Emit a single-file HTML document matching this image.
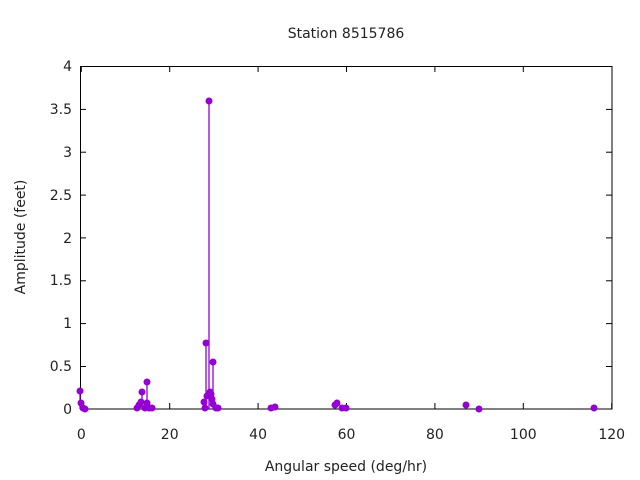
<!DOCTYPE html>
<html><head><meta charset="utf-8"><style>body{margin:0;background:#fff}svg{display:block}text{font-family:"DejaVu Sans",sans-serif;font-size:14px;fill:#222}</style></head><body>
<svg width="640" height="480" xmlns="http://www.w3.org/2000/svg">
<rect x="80.5" y="66.5" width="531.5" height="342.5" fill="none" stroke="#000" stroke-width="1"/>
<g stroke="#000">
<line x1="81.3" y1="409" x2="81.3" y2="403"/><line x1="169.7" y1="409" x2="169.7" y2="403"/><line x1="258.1" y1="409" x2="258.1" y2="403"/><line x1="346.5" y1="409" x2="346.5" y2="403"/><line x1="434.9" y1="409" x2="434.9" y2="403"/><line x1="523.3" y1="409" x2="523.3" y2="403"/><line x1="611.7" y1="409" x2="611.7" y2="403"/>
<line x1="81.3" y1="66.5" x2="81.3" y2="72"/><line x1="169.7" y1="66.5" x2="169.7" y2="72"/><line x1="258.1" y1="66.5" x2="258.1" y2="72"/><line x1="346.5" y1="66.5" x2="346.5" y2="72"/><line x1="434.9" y1="66.5" x2="434.9" y2="72"/><line x1="523.3" y1="66.5" x2="523.3" y2="72"/>
<line x1="80" y1="66.5" x2="86" y2="66.5"/><line x1="80" y1="109.4" x2="86" y2="109.4"/><line x1="80" y1="152.2" x2="86" y2="152.2"/><line x1="80" y1="195.1" x2="86" y2="195.1"/><line x1="80" y1="237.9" x2="86" y2="237.9"/><line x1="80" y1="280.8" x2="86" y2="280.8"/><line x1="80" y1="323.6" x2="86" y2="323.6"/><line x1="80" y1="366.5" x2="86" y2="366.5"/>
<line x1="612" y1="66.5" x2="606" y2="66.5"/><line x1="612" y1="109.4" x2="606" y2="109.4"/><line x1="612" y1="152.2" x2="606" y2="152.2"/><line x1="612" y1="195.1" x2="606" y2="195.1"/><line x1="612" y1="237.9" x2="606" y2="237.9"/><line x1="612" y1="280.8" x2="606" y2="280.8"/><line x1="612" y1="323.6" x2="606" y2="323.6"/><line x1="612" y1="366.5" x2="606" y2="366.5"/>
</g>
<g text-anchor="middle"><text x="81.3" y="439">0</text><text x="169.7" y="439">20</text><text x="258.1" y="439">40</text><text x="346.5" y="439">60</text><text x="434.9" y="439">80</text><text x="523.3" y="439">100</text><text x="611.7" y="439">120</text>
<text x="346" y="471">Angular speed (deg/hr)</text><text x="346" y="38">Station 8515786</text>
<text transform="translate(25,237) rotate(-90)">Amplitude (feet)</text></g>
<g text-anchor="end"><text x="72" y="414">0</text><text x="72" y="371">0.5</text><text x="72" y="328">1</text><text x="72" y="285">1.5</text><text x="72" y="243">2</text><text x="72" y="200">2.5</text><text x="72" y="157">3</text><text x="72" y="114">3.5</text><text x="72" y="71">4</text></g>
<g stroke="#9400d3" stroke-width="1.3">
<line x1="80" y1="409" x2="80" y2="391"/><line x1="81" y1="409" x2="81" y2="403"/>
<line x1="142" y1="409" x2="142" y2="392"/><line x1="147" y1="409" x2="147" y2="382"/>
<line x1="206" y1="409" x2="206" y2="343"/><line x1="209" y1="409" x2="209" y2="101"/><line x1="213" y1="409" x2="213" y2="362"/>
</g>
<g fill="#9400d3">
<circle cx="80" cy="391" r="3.5"/><circle cx="81" cy="403" r="3.5"/><circle cx="83" cy="408" r="3.5"/><circle cx="85" cy="409" r="3.5"/>
<circle cx="137" cy="408" r="3.5"/><circle cx="139" cy="405" r="3.5"/><circle cx="141" cy="402" r="3.5"/><circle cx="142" cy="392" r="3.5"/><circle cx="145" cy="408" r="3.5"/><circle cx="147" cy="382" r="3.5"/><circle cx="147" cy="403" r="3.5"/><circle cx="149" cy="408" r="3.5"/><circle cx="152" cy="408" r="3.5"/>
<circle cx="204" cy="402" r="3.5"/><circle cx="205" cy="408" r="3.5"/><circle cx="206" cy="343" r="3.5"/><circle cx="207" cy="396" r="3.5"/><circle cx="209" cy="101" r="3.5"/><circle cx="210" cy="392" r="3.5"/><circle cx="211" cy="394" r="3.5"/><circle cx="212" cy="399" r="3.5"/><circle cx="213" cy="362" r="3.5"/><circle cx="213" cy="404" r="3.5"/><circle cx="216" cy="408" r="3.5"/><circle cx="218" cy="408" r="3.5"/>
<circle cx="271" cy="408" r="3.5"/><circle cx="275" cy="407" r="3.5"/>
<circle cx="335" cy="405" r="3.5"/><circle cx="337" cy="403" r="3.5"/><circle cx="342" cy="408" r="3.5"/><circle cx="346" cy="408" r="3.5"/>
<circle cx="466" cy="405" r="3.5"/><circle cx="479" cy="409" r="3.5"/><circle cx="594" cy="408" r="3.5"/>
</g>
</svg>
</body></html>
